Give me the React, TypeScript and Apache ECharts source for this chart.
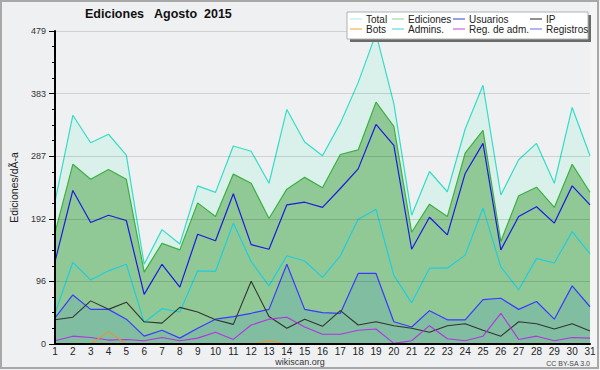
import React, { useEffect, useRef } from "react";
import * as echarts from "echarts";

const days = ["1","2","3","4","5","6","7","8","9","10","11","12","13","14","15","16","17","18","19","20","21","22","23","24","25","26","27","28","29","30","31"];
const total = [218,350,308,321,289,122,175,153,242,232,303,295,246,359,309,288,338,400,475,368,197,264,233,329,396,228,282,307,246,362,288];
const ediciones = [170,275,252,267,252,110,154,144,216,195,260,246,192,237,255,239,290,297,370,333,171,214,195,292,327,157,227,240,209,275,232];
const usuarios = [126,235,186,197,189,76,122,87,168,158,230,152,145,213,217,209,238,268,336,304,145,194,167,261,307,144,195,210,185,242,213];
const ip = [37,41,66,53,64,34,32,56,49,37,30,96,42,24,38,27,51,29,34,28,24,18,28,31,21,12,34,31,23,31,20];
const bots = [0,0,0,19,0,0,0,0,0,0,0,0,5,0,0,0,0,0,0,0,0,0,0,0,0,0,0,1,0,0,0];
const admins = [47,125,98,112,122,33,54,49,112,111,185,126,89,135,127,102,135,191,206,105,63,116,116,136,208,118,83,131,124,172,138];
const regAdm = [5,12,10,6,7,5,10,5,9,18,7,29,38,41,26,15,15,21,23,1,5,28,8,5,12,47,7,12,5,10,9];
const registros = [40,75,53,53,38,12,21,9,24,38,42,47,53,122,53,48,47,108,108,34,26,51,37,37,68,70,53,65,38,89,57];
const yMax = 479;

const FONT = "Liberation Sans";

export default function App() {
  const ref = useRef<HTMLDivElement>(null);
  useEffect(() => {
    if (!ref.current) return;
    const chart = echarts.init(ref.current, null, { renderer: "svg" });
    const lineSeries = (name: string, data: number[], color: string, width = 1, area?: string) => ({
      name,
      type: "line",
      data,
      symbol: "none",
      lineStyle: { color, width },
      itemStyle: { color },
      areaStyle: area ? { color: area, opacity: 1 } : undefined,
    });
    const legendIcon = "path://M0,4.5h12v1h-12z";
    const leg = (left: number, items: { name: string; color: string }[]) => ({
      orient: "vertical",
      left,
      top: 14,
      z: 30,
      padding: 0,
      itemGap: 0,
      itemWidth: 12,
      itemHeight: 10,
      symbolKeepAspect: true,
      selectedMode: false,
      textStyle: { fontFamily: FONT, fontSize: 10, color: "#222", lineHeight: 10, padding: [0, 0, 0, -1] },
      data: items.map((it) => ({ name: it.name, icon: legendIcon, itemStyle: { color: it.color, borderWidth: 0 } })),
    });
    chart.setOption({
      animation: false,
      backgroundColor: "#eff0f2",
      title: {
        text: "Ediciones   Agosto  2015",
        left: 85,
        top: 7,
        padding: 0,
        textStyle: { fontFamily: FONT, fontSize: 12.5, fontWeight: "bold", color: "#111" },
      },
      legend: [
        leg(350, [{ name: "Total", color: "#ace8dc" }, { name: "Bots", color: "#f2a040" }]),
        leg(392, [{ name: "Ediciones", color: "#8cd08c" }, { name: "Admins.", color: "#44d0e0" }]),
        leg(453, [{ name: "Usuarios", color: "#3a3acc" }, { name: "Reg. de adm.", color: "#c844dd" }]),
        leg(530, [{ name: "IP", color: "#222222" }, { name: "Registros", color: "#6868e8" }]),
      ],
      grid: { left: 47, right: 10, top: 31, bottom: 26, containLabel: false },
      xAxis: {
        type: "category",
        data: days,
        boundaryGap: false,
        z: 4,
        axisLine: { lineStyle: { color: "#000", width: 2 } },
        axisTick: { show: false },
        axisLabel: { fontFamily: FONT, fontSize: 10, color: "#222", margin: 2, interval: 0 },
      },
      yAxis: {
        type: "value",
        min: 0,
        max: yMax,
        interval: yMax / 5,
        z: 4,
        name: "Ediciones/dÃ-a",
        nameLocation: "middle",
        nameGap: 36,
        nameTextStyle: { fontFamily: FONT, fontSize: 10.5, color: "#222" },
        axisLine: { show: true, lineStyle: { color: "#000", width: 2 } },
        axisTick: { show: true, length: 6, lineStyle: { color: "#000" } },
        minorTick: { show: true, splitNumber: 4, length: 3, lineStyle: { color: "#000" } },
        splitLine: { show: true, lineStyle: { color: "rgba(0,0,0,0.13)", width: 1 } },
        axisLabel: {
          fontFamily: FONT,
          fontSize: 9,
          color: "#333",
          margin: 9,
          formatter: (v: number) => String(Math.round(v)),
        },
      },
      series: [
        lineSeries("Total", total, "#35dcc8", 1.2, "#d9f1ea"),
        lineSeries("Ediciones", ediciones, "#3cb043", 1.2, "#90c996"),
        lineSeries("Registros", registros, "#3a3aff", 1.2, "rgba(40,120,230,0.15)"),
        lineSeries("Admins.", admins, "#22ccdd", 1.2),
        lineSeries("Usuarios", usuarios, "#1a1ae0", 1.2),
        lineSeries("IP", ip, "#333333", 1.1),
        lineSeries("Reg. de adm.", regAdm, "#b035e0", 1.1),
        lineSeries("Bots", bots, "#f0902a", 1.1),
      ],
      graphic: [
        { type: "rect", z: 0, silent: true, shape: { x: 590, y: 0, width: 10, height: 370 }, style: { fill: "#f4f4f4" } },
        { type: "rect", z: 10, silent: true, shape: { x: 350, y: 15, width: 241, height: 27 }, style: { fill: "#6a6a6a" } },
        { type: "rect", z: 10, silent: true, shape: { x: 347, y: 12, width: 241, height: 27 }, style: { fill: "#ffffff", stroke: "#b0b0b0", lineWidth: 1 } },
        { type: "text", z: 10, silent: true, x: 300, y: 362, style: { text: "wikiscan.org", fontFamily: FONT, fontSize: 9, fill: "#333", align: "center", verticalAlign: "middle" } },
        { type: "text", z: 10, silent: true, x: 590, y: 363, style: { text: "CC BY-SA 3.0", fontFamily: FONT, fontSize: 7, fill: "#444", align: "right", verticalAlign: "middle" } },
        { type: "rect", z: 20, silent: true, shape: { x: 1, y: 1, width: 597, height: 367 }, style: { fill: "none", stroke: "#a8a8a8", lineWidth: 2 } },
      ],
    });
    return () => chart.dispose();
  }, []);
  return <div ref={ref} style={{ position: "fixed", left: 0, top: 0, width: 600, height: 370 }} />;
}
